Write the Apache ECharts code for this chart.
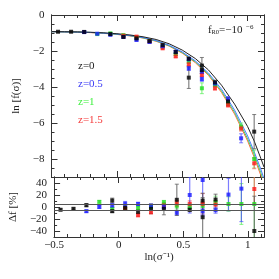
<!DOCTYPE html>
<html><head><meta charset="utf-8">
<script src="https://cdn.jsdelivr.net/npm/echarts@6/dist/echarts.min.js"></script>
<style>html,body{margin:0;padding:0;background:#fff}#c{width:279px;height:279px}</style>
</head><body><div id="c"></div>
<script>
// ---- model curves (top panel) ----
const curveX   = [-0.5,-0.4,-0.3,-0.2,-0.1,0,0.1,0.2,0.3,0.4,0.5,0.6,0.7,0.8,0.9,1.0,1.05,1.1,1.125];
const curveZ0  = [-0.92,-0.93,-0.94,-0.96,-0.99,-1.04,-1.11,-1.21,-1.36,-1.6,-1.95,-2.42,-3.05,-3.9,-4.95,-6.2,-7.0,-7.95,-8.45];
const curveZ05 = [-0.93,-0.94,-0.95,-0.97,-1.01,-1.06,-1.14,-1.25,-1.42,-1.68,-2.05,-2.55,-3.22,-4.12,-5.28,-6.72,-7.6,-8.55,-9.1];
const curveZ1  = [-0.93,-0.94,-0.95,-0.97,-1.01,-1.07,-1.15,-1.27,-1.44,-1.71,-2.09,-2.6,-3.29,-4.22,-5.4,-6.88,-7.75,-8.75,-9.3];
const curveZ15 = [-0.93,-0.94,-0.95,-0.98,-1.02,-1.08,-1.16,-1.28,-1.46,-1.73,-2.12,-2.65,-3.35,-4.3,-5.5,-7.0,-7.9,-8.9,-9.4];

// ---- measured ln f (top panel) ----
const topZ0X  = [-0.45,-0.35,-0.25,-0.05,0.05,0.15,0.25,0.35,0.45,0.55,0.55,0.65,0.65,0.75,0.85,1.05];
const topZ0Y  = [-0.93,-0.93,-0.94,-1.06,-1.22,-1.3,-1.45,-1.67,-2.06,-2.43,-3.48,-2.81,-3.06,-3.74,-4.8,-6.48];
const topZ0E  = [0.03,0.03,0.06,0.06,0.05,0.05,0.05,0.1,0.08,0.08,0.6,0.45,0.1,0.12,0.22,0.95];
const topZ05X = [-0.25,-0.15,-0.05,0.05,0.15,0.25,0.35,0.45,0.55,0.55,0.65,0.65,0.75,0.85,0.95];
const topZ05Y = [-0.95,-1.04,-1.1,-1.22,-1.39,-1.5,-1.73,-2.04,-2.46,-2.96,-3.15,-3.56,-3.8,-4.68,-6.85];
const topZ05E = [0.05,0.04,0.05,0.05,0.05,0.06,0.06,0.07,0.08,0.12,0.1,0.12,0.1,0.15,0.25];
const topZ1X  = [-0.15,-0.05,0.05,0.15,0.25,0.35,0.45,0.55,0.65,0.75,0.85,0.95,1.05];
const topZ1Y  = [-1.06,-1.02,-1.12,-1.26,-1.45,-1.76,-2.18,-2.59,-4.07,-3.9,-4.9,-6.2,-8.0];
const topZ1E  = [0.03,0.04,0.05,0.05,0.05,0.06,0.06,0.08,0.3,0.1,0.15,0.2,0.5];
const topZ15X = [0.05,0.15,0.25,0.35,0.45,0.55,0.65,0.75,0.85,0.95,1.05];
const topZ15Y = [-1.15,-1.2,-1.47,-1.85,-2.3,-2.74,-3.33,-4.07,-5.0,-6.3,-8.24];
const topZ15E = [0.04,0.04,0.05,0.05,0.06,0.07,0.08,0.1,0.12,0.15,0.3];

// ---- relative difference in % (bottom panel) ----
const botZ0X  = [-0.45,-0.35,-0.25,-0.05,-0.05,0.05,0.15,0.25,0.35,0.45,0.55,0.65,0.65,0.75,1.05];
const botZ0Y  = [-4.6,-3,3,10.8,-7,-1.3,-8,-3,-3,12,-4.6,10.7,-17,12.4,-40];
const botZ0E  = [1.5,1.5,2.5,4,2,2.5,3,8,10,26,3,5,40,9,58];
const botZ05X = [-0.25,-0.15,-0.05,0.05,0.15,0.25,0.35,0.45,0.55,0.65,0.65,0.75,0.85,0.95];
const botZ05Y = [-7,0,2.5,5.3,5,2,0,-9.6,20,45,-7,-5.3,20.7,30.6];
const botZ05E = [2,2,3,4,3,3,3,4,30,60,5,5,27,55];
const botZ1X  = [-0.15,-0.05,0.05,0.15,0.25,0.35,0.45,0.55,0.65,0.75,0.85,0.95,1.05];
const botZ1Y  = [8.6,-3,-3,-1.3,0,8,2,0,2,8,5,5,5];
const botZ1E  = [2,2,2,3,3,3,5,5,6,10,12,34,80];
const botZ15X = [0.05,0.15,0.25,0.35,0.45,0.55,0.65,0.75,1.05];
const botZ15Y = [-3,-13.5,-8.6,2.5,6,5.3,5.3,4,30];
const botZ15E = [2,3,3,3,5,5,17,6,25];
const refLevels = [5,-5];

// ---- ticks ----
const xMajor = [-0.5,0,0.5,1];
const xMinor = [-0.4,-0.3,-0.2,-0.1,0.1,0.2,0.3,0.4,0.6,0.7,0.8,0.9,1.1];
const yTopMajor = [0,-2,-4,-6,-8];
const yTopMinor = [-0.5,-1,-1.5,-2.5,-3,-3.5,-4.5,-5,-5.5,-6.5,-7,-7.5,-8.5];
const yBotMajor = [40,20,0,-20,-40];
const yBotMinor = [30,10,-10,-30];

const FONT = 'Liberation Serif';
const AX = '#333';
const minus = v => String(v).replace('-', '\u2212');

function xAxisDef(grid, pos, major, showLabel, name) {
  return {
    type:'value', gridIndex:grid, position:pos, min:-0.5, max:1.125,
    axisLine:{show:true, onZero:false, lineStyle:{color:AX, width:1}},
    axisTick:{show:true, inside:true, length: major ? 6 : 3, customValues: major ? xMajor : xMinor, lineStyle:{color:AX}},
    axisLabel:{show:showLabel, customValues:xMajor, formatter:minus, margin:3, color:'#222', fontFamily:FONT, fontSize:11},
    splitLine:{show:false},
    name: name || '', nameLocation:'middle', nameGap:15,
    nameTextStyle:{fontFamily:FONT, fontSize:11, color:'#222', fontWeight:'normal'}
  };
}
function yAxisDef(grid, pos, min, max, majors, minors, major, showLabel, name, gap) {
  return {
    type:'value', gridIndex:grid, position:pos, min:min, max:max,
    axisLine:{show:true, onZero:false, lineStyle:{color:AX, width:1}},
    axisTick:{show:true, inside:true, length: major ? 6 : 3, customValues: major ? majors : minors, lineStyle:{color:AX}},
    axisLabel:{show:showLabel, customValues:majors, formatter:minus, margin:7, color:'#222', fontFamily:FONT, fontSize:11},
    splitLine:{show:false},
    name: name || '', nameLocation:'middle', nameGap:gap || 30, nameRotate:90,
    nameTextStyle:{fontFamily:FONT, fontSize:11, color:'#222', fontWeight:'normal'}
  };
}

const xAxes = [
  xAxisDef(0,'bottom',true,false), xAxisDef(0,'bottom',false,false),
  xAxisDef(0,'top',true,false), xAxisDef(0,'top',false,false),
  xAxisDef(1,'bottom',true,true,'ln(\u03c3\u207b\u00b9)'), xAxisDef(1,'bottom',false,false),
  xAxisDef(1,'top',true,false), xAxisDef(1,'top',false,false)
];
const yAxes = [
  yAxisDef(0,'left',-9,0,yTopMajor,yTopMinor,true,true,'ln [f(\u03c3)]',29),
  yAxisDef(0,'left',-9,0,yTopMajor,yTopMinor,false,false),
  yAxisDef(0,'right',-9,0,yTopMajor,yTopMinor,true,false),
  yAxisDef(0,'right',-9,0,yTopMajor,yTopMinor,false,false),
  yAxisDef(1,'left',-50,50,yBotMajor,yBotMinor,true,true,'\u0394f [%]',27),
  yAxisDef(1,'left',-50,50,yBotMajor,yBotMinor,false,false),
  yAxisDef(1,'right',-50,50,yBotMajor,yBotMinor,true,false),
  yAxisDef(1,'right',-50,50,yBotMajor,yBotMinor,false,false)
];

const zip2 = (a,b) => a.map((v,i)=>[v,b[i]]);
const zip3 = (a,b,c) => a.map((v,i)=>[v,b[i],c[i]]);

function curve(ys, color) {
  return {type:'line', xAxisIndex:0, yAxisIndex:0, data:zip2(curveX, ys), showSymbol:false, smooth:false,
    clip:true, lineStyle:{color:color, width:1}, silent:true, z:2};
}
function errBars(xs, ys, es, color, xi, yi) {
  return {type:'custom', xAxisIndex:xi, yAxisIndex:yi, data:zip3(xs,ys,es), clip:true, silent:true, z:3,
    renderItem:function(params, api){
      const x = api.value(0), y = api.value(1), e = api.value(2);
      const lo = api.coord([x, y - e]), hi = api.coord([x, y + e]);
      return {type:'group', children:[
        {type:'line', shape:{x1:lo[0],y1:lo[1],x2:hi[0],y2:hi[1]}, style:{stroke:color, lineWidth:1.2}},
        {type:'line', shape:{x1:lo[0]-2,y1:lo[1],x2:lo[0]+2,y2:lo[1]}, style:{stroke:color, lineWidth:1}},
        {type:'line', shape:{x1:hi[0]-2,y1:hi[1],x2:hi[0]+2,y2:hi[1]}, style:{stroke:color, lineWidth:1}}
      ]};
    }};
}
function pts(xs, ys, color, xi, yi, extra) {
  return Object.assign({type:'scatter', xAxisIndex:xi, yAxisIndex:yi, data:zip2(xs,ys), symbol:'rect', symbolSize:4,
    itemStyle:{color:color}, silent:true, z:4, clip:true}, extra || {});
}

const C = {k:'#000000', b:'#1a1aff', g:'#1fdc1f', r:'#ff1a1a'};
const E = {k:'rgba(90,90,90,0.75)', b:'rgba(70,70,255,0.7)', g:'rgba(90,240,90,0.7)', r:'rgba(255,90,90,0.7)'};

const series = [
  curve(curveZ15,'#ff6a3a'), curve(curveZ1,'#3fd36a'), curve(curveZ05,'#4a78ff'), curve(curveZ0,'#222222'),
  errBars(topZ1X,topZ1Y,topZ1E,E.g,0,0), errBars(topZ15X,topZ15Y,topZ15E,E.r,0,0),
  errBars(topZ05X,topZ05Y,topZ05E,E.b,0,0), errBars(topZ0X,topZ0Y,topZ0E,E.k,0,0),
  pts(topZ1X,topZ1Y,C.g,0,0), pts(topZ15X,topZ15Y,C.r,0,0), pts(topZ05X,topZ05Y,C.b,0,0), pts(topZ0X,topZ0Y,C.k,0,0),
  errBars(botZ1X,botZ1Y,botZ1E,E.g,4,4), errBars(botZ15X,botZ15Y,botZ15E,E.r,4,4),
  errBars(botZ05X,botZ05Y,botZ05E,E.b,4,4), errBars(botZ0X,botZ0Y,botZ0E,E.k,4,4),
  pts(botZ1X,botZ1Y,C.g,4,4), pts(botZ15X,botZ15Y,C.r,4,4), pts(botZ05X,botZ05Y,C.b,4,4),
  pts(botZ0X,botZ0Y,C.k,4,4,{markLine:{silent:true, symbol:'none', label:{show:false},
    lineStyle:{color:'#555', type:'solid', width:1}, data:refLevels.map(v=>({yAxis:v}))}})
];

const txt = (s, x, y, color, size) => ({type:'text', x:x, y:y, silent:true,
  style:{text:s, fill:color, font: size + 'px "' + FONT + '"', verticalAlign:'middle', align:'left'}});

const graphic = [
  txt('z=0', 78, 66.5, '#222', 11),
  txt('z=0.5', 78, 84.5, '#3a3af5', 11),
  txt('z=1', 78, 102.5, '#3ef03e', 11),
  txt('z=1.5', 78, 120.5, '#f53a3a', 11),
  txt('f', 208, 30, '#222', 11),
  txt('R0', 211.5, 32.5, '#222', 6.5),
  txt('=\u221210', 219, 30, '#222', 11),
  txt('\u22126', 246, 27, '#222', 7)
];

const chart = echarts.init(document.getElementById('c'), null, {renderer:'canvas'});
chart.setOption({
  animation:false,
  backgroundColor:'#fff',
  grid:[{left:51.5, top:15, width:212.5, height:162}, {left:51.5, top:177, width:212.5, height:60}],
  xAxis:xAxes, yAxis:yAxes, series:series, graphic:graphic
});
</script></body></html>
